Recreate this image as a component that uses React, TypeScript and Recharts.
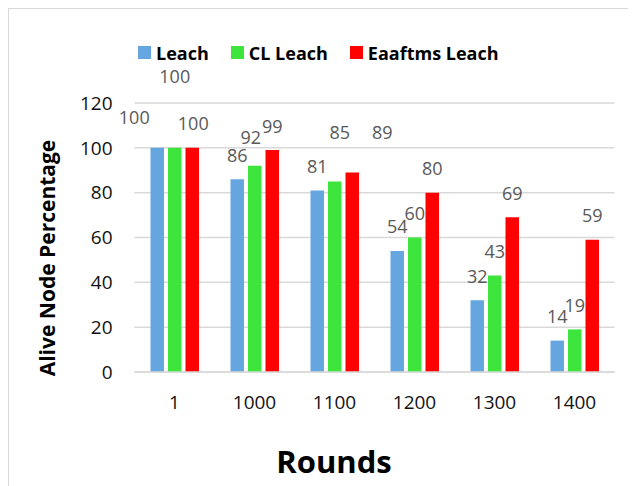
import React from 'react';
import { BarChart, Bar, XAxis, YAxis, CartesianGrid, LabelList, Label } from 'recharts';

// Rounds on the x axis
const rounds = ['1', '1000', '1100', '1200', '1300', '1400'];

// Alive node percentage per protocol
const leach = [100, 86, 81, 54, 32, 14];
const clLeach = [100, 92, 85, 60, 43, 19];
const eaaftmsLeach = [100, 99, 89, 80, 69, 59];

const yTicks = [0, 20, 40, 60, 80, 100, 120];

const seriesKeys = ['leach', 'cl', 'eaaftms'];
const seriesNames = ['Leach', 'CL Leach', 'Eaaftms Leach'];
const seriesColors = ['#66A6E0', '#3CE43C', '#FF0000'];

// Hand-placed data labels: [dx, dy] nudges by series and category index
const labelNudges: Record<string, Record<number, [number, number]>> = {
  leach: { 0: [-23, -6] },
  cl: { 0: [0, -47], 1: [-4, -4], 2: [5, -25] },
  eaaftms: { 0: [1, 0], 2: [30, -16] },
};

const data = rounds.map((r, i) => ({
  round: r,
  leach: leach[i],
  cl: clLeach[i],
  eaaftms: eaaftmsLeach[i],
}));

const FONT = '"Open Sans", "Noto Sans", sans-serif';

const makeValueLabel = (key: string) => (props: any) => {
  const vb = props.viewBox || {};
  const x = vb.x ?? props.x;
  const y = vb.y ?? props.y;
  const w = vb.width ?? props.width;
  const [dx, dy] = labelNudges[key][props.index] ?? [0, 0];
  return (
    <text
      x={x + w / 2 + dx}
      y={y - 17.5 + dy}
      textAnchor="middle"
      fill="#595959"
      fontSize={18}
      fontFamily={FONT}
    >
      {props.value}
    </text>
  );
};

const XTitle = (props: any) => {
  const vb = props.viewBox;
  return (
    <text
      x={vb.x + vb.width / 2 - 40.5}
      y={vb.y + 101}
      textAnchor="middle"
      fontSize={31}
      fontWeight={700}
      fill="#000"
      fontFamily={FONT}
    >
      Rounds
    </text>
  );
};

const YTitle = (props: any) => {
  const vb = props.viewBox;
  const cx = vb.x - 19.5;
  const cy = vb.y + vb.height / 2 + 20.5;
  return (
    <text
      x={cx}
      y={cy}
      textAnchor="middle"
      transform={`rotate(-90, ${cx}, ${cy})`}
      fontSize={21}
      fontWeight={700}
      fill="#000"
      fontFamily={FONT}
    >
      Alive Node Percentage
    </text>
  );
};

export default function App() {
  return (
    <div
      style={{
        position: 'relative',
        width: 627,
        height: 477,
        borderTop: '1px solid #d9d9d9',
        borderLeft: '1px solid #d9d9d9',
        fontFamily: FONT,
      }}
    >
      <div
        style={{
          position: 'absolute',
          left: 129,
          top: 32,
          height: 23,
          display: 'flex',
          alignItems: 'center',
          fontSize: 18,
          fontWeight: 700,
          color: '#000',
          whiteSpace: 'nowrap',
        }}
      >
        {seriesNames.map((name, i) => (
          <div key={name} style={{ display: 'flex', alignItems: 'center', marginRight: 22 }}>
            <span
              style={{
                display: 'inline-block',
                width: 13,
                height: 13,
                background: seriesColors[i],
                marginRight: 5,
              }}
            />
            <span>{name}</span>
          </div>
        ))}
      </div>
      <BarChart
        width={627}
        height={477}
        data={data}
        margin={{ top: 94, right: 21.5, bottom: 74, left: 65.5 }}
        barGap={4}
        barSize={13.5}
      >
        <CartesianGrid vertical={false} stroke="#d9d9d9" strokeWidth={1.5} />
        <XAxis
          dataKey="round"
          height={40}
          axisLine={{ stroke: '#d9d9d9', strokeWidth: 1.5 }}
          tickLine={false}
          tickSize={0}
          tickMargin={24}
          tick={{ fill: '#111', fontSize: 19, fontFamily: FONT }}
          label={<Label content={XTitle} />}
        />
        <YAxis
          width={60}
          domain={[0, 120]}
          ticks={yTicks}
          axisLine={false}
          tickLine={false}
          tickSize={0}
          tickMargin={22}
          tick={{ fill: '#111', fontSize: 19, fontFamily: FONT }}
          label={<Label content={YTitle} />}
        />
        {seriesKeys.map((key, i) => (
          <Bar key={key} dataKey={key} name={seriesNames[i]} fill={seriesColors[i]} isAnimationActive={false}>
            <LabelList dataKey={key} content={makeValueLabel(key)} />
          </Bar>
        ))}
      </BarChart>
    </div>
  );
}
